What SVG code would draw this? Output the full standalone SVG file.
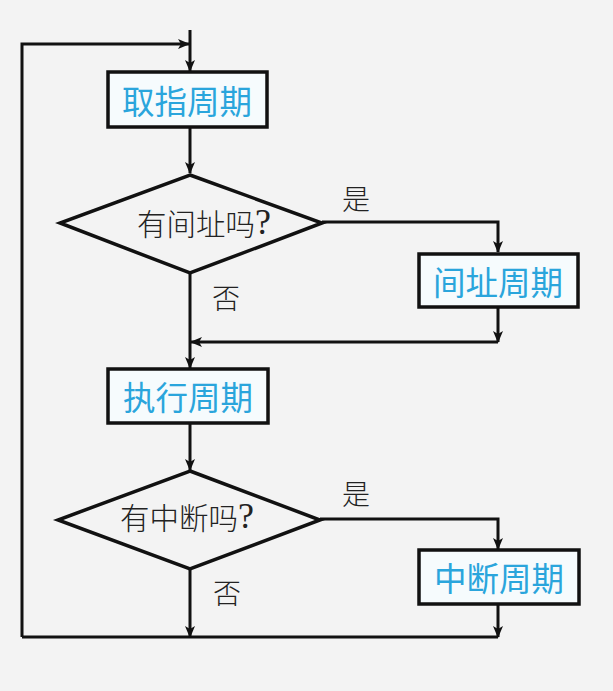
<svg xmlns="http://www.w3.org/2000/svg" width="613" height="691" viewBox="0 0 613 691">
<style>
.box{fill:#f6fbfd;stroke:#111;stroke-width:3.5}
.dia{fill:none;stroke:#111;stroke-width:3.5;stroke-linejoin:miter}
.ln{fill:none;stroke:#111;stroke-width:3}
.bt{font-family:"Noto Sans CJK SC","Noto Sans",sans-serif;font-size:32.5px;fill:#2aa5dc;text-anchor:middle;dominant-baseline:central}
.dt{font-family:"Noto Sans CJK SC",sans-serif;font-size:29.5px;fill:#222;text-anchor:middle;dominant-baseline:central;font-weight:300}
.q{font-family:"Liberation Serif",serif;font-size:36px}
.lb{font-family:"Noto Sans CJK SC",sans-serif;font-size:28px;fill:#222;dominant-baseline:central;font-weight:300}
</style>
<defs>
<marker id="ar" viewBox="0 0 12 10" refX="11" refY="5" markerWidth="12" markerHeight="10" markerUnits="userSpaceOnUse" orient="auto">
<path d="M0,0 L12,5 L0,10 L3,5 Z" fill="#111"/>
</marker>
</defs>
<rect width="613" height="691" fill="#f3f3f3"/>
<g id="connectors">
<path class="ln" d="M190,30 V71" marker-end="url(#ar)"/>
<path class="ln" d="M22,637 V44 H189" marker-end="url(#ar)"/>
<path class="ln" d="M190,127 V173" marker-end="url(#ar)"/>
<path class="ln" d="M322,222 H498 V252" marker-end="url(#ar)"/>
<path class="ln" d="M498,307 V342" marker-end="url(#ar)"/>
<path class="ln" d="M498,342 H191" marker-end="url(#ar)"/>
<path class="ln" d="M190,273 V368" marker-end="url(#ar)"/>
<path class="ln" d="M190,423 V470" marker-end="url(#ar)"/>
<path class="ln" d="M320,519 H498 V549" marker-end="url(#ar)"/>
<path class="ln" d="M498,604 V637" marker-end="url(#ar)"/>
<path class="ln" d="M498,637 H22"/>
<path class="ln" d="M190,569 V637" marker-end="url(#ar)"/>
</g>
<g id="fetch">
<rect class="box" x="108" y="72" width="159" height="55"/>
<text class="bt" x="187" y="99">取指周期</text>
</g>
<g id="indirect-q">
<polygon class="dia" points="190,175 322,223 190,273 60,223"/>
<text class="dt" x="204" y="222">有间址吗<tspan class="q">?</tspan></text>
</g>
<g id="indirect">
<rect class="box" x="419" y="254" width="159" height="53"/>
<text class="bt" x="498" y="280">间址周期</text>
</g>
<g id="execute">
<rect class="box" x="108" y="369" width="160" height="54"/>
<text class="bt" x="188" y="395">执行周期</text>
</g>
<g id="interrupt-q">
<polygon class="dia" points="190,471 320,520 190,569 58,520"/>
<text class="dt" x="187" y="516">有中断吗<tspan class="q">?</tspan></text>
</g>
<g id="interrupt">
<rect class="box" x="419" y="550" width="160" height="54"/>
<text class="bt" x="499" y="576">中断周期</text>
</g>
<g id="labels">
<text class="lb" x="342" y="198">是</text>
<text class="lb" x="212" y="297">否</text>
<text class="lb" x="342" y="493">是</text>
<text class="lb" x="213" y="592">否</text>
</g>
</svg>
